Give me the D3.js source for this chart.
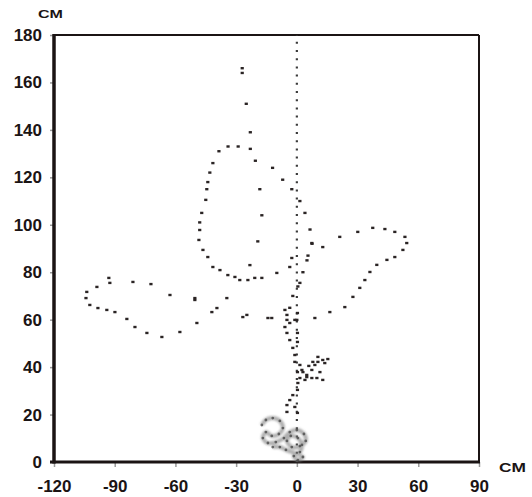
<!DOCTYPE html>
<html>
<head>
<meta charset="utf-8">
<script src="https://cdnjs.cloudflare.com/ajax/libs/d3/7.8.5/d3.min.js"></script>
<style>
body { margin: 0; background: #fff; }
svg text { font-family: "Liberation Sans", Arial, sans-serif; font-weight: bold; fill: #1b1414; }
</style>
</head>
<body>
<svg id="chartSVG" width="532" height="497"></svg>
<script>
// tick labels
var xTicks = [-120, -90, -60, -30, 0, 30, 60, 90];
var yTicks = [0, 20, 40, 60, 80, 100, 120, 140, 160, 180];

// straight dotted reference line at x = 0
var refLine = [[0, 0], [0, 180]];

// trajectory pieces, [x cm, y cm]
var topSpur = [[-27, 166], [-27, 164], [-25, 151], [-23, 139], [-23, 132], [-12, 124], [-7, 119], [-2.5, 115],
  [1.5, 110], [4, 105], [6.5, 98], [7.5, 92], [5.5, 87], [5, 85], [3, 80], [1.5, 75.5], [0.5, 74], [-2, 70], [-3.5, 65]];
var innerPath = [[-20.5, 127], [-18.3, 115], [-17.3, 104], [-19.3, 93], [-23.2, 83]];
var leftLoop = [[-29, 133], [-34, 133], [-38.5, 131], [-41.5, 126], [-43, 122], [-44, 118], [-44.5, 115], [-45, 110.5],
  [-47, 105], [-48, 101], [-48, 97.8], [-48.4, 93.6], [-46.4, 89.4], [-44, 86.4], [-41.5, 82.2], [-38, 80.9],
  [-34.1, 78.8], [-30.6, 78], [-28.2, 76.7], [-24.2, 76.7], [-20.8, 77.6], [-17.3, 77.6], [-9.9, 79.7], [-3.5, 82.2], [-2.5, 86]];
var rightLobe = [[7.4, 92.3], [12.8, 90.6], [21.2, 94.9], [30.1, 97], [37.5, 98.7], [43.5, 98.2], [48.4, 97], [53.4, 94.9],
  [54.3, 92.3], [52.4, 89.4], [48.4, 86.4], [44.5, 85.2], [39.5, 83.1], [36.1, 80.1], [33.6, 76.7], [31.1, 73.4],
  [27.7, 69.6], [23.7, 65.3], [16.3, 63.2], [8.9, 60.7], [0, 59.9]];
var crossLine = [[-50.4, 69.1], [-39.5, 64.9], [-34.6, 69.1], [-26.7, 61.1], [-24.7, 62], [-14.3, 60.7], [-12.4, 60.7], [-4.9, 62]];
var leftLobe = [[-42, 63.2], [-49.4, 58.6], [-57.8, 54.8], [-66.7, 52.7], [-74.1, 54.4], [-80, 56.9], [-84, 60.3],
  [-89.9, 63.2], [-93.9, 64.1], [-98.3, 64.9], [-102.3, 66.2], [-104.2, 69.1], [-103.8, 71.7], [-98.8, 73.8],
  [-92.9, 77.6], [-92.4, 75.5], [-81, 75.9], [-72.1, 75], [-62.7, 70.4], [-50.4, 68.3]];
var trunk = [[-5.9, 64.1], [-4.9, 59.9], [-5.9, 56.9], [-3.5, 58.6], [-1, 59.9], [0.3, 62.8], [-4.9, 54.4], [-3.5, 51.4],
  [0.3, 54.4], [0.3, 50.6], [-2, 48.1], [-1, 45.1], [-1, 42.2], [1.5, 40.9], [0.3, 37.9], [1.5, 35.4],
  [0.5, 33.3], [0.3, 30.4], [-2, 28.2], [-3.5, 26.1], [-4.9, 24], [-4.9, 21.1], [-1, 23.2], [0.3, 20.7]];
var star = [[2.5, 38.8], [4.9, 36.7], [7.4, 38.8], [8.9, 40.9], [10.4, 42.2], [12.8, 43], [15.3, 43.4], [13.8, 41.7],
  [11.4, 37.9], [12.8, 34.6], [9.9, 35.4], [7.4, 35.4], [4.9, 35.8], [7.9, 42.2], [10.4, 44.3], [3, 37.9], [5.9, 40.5], [4, 34.6]];
var scribble = [[-17.3, 15.6], [-15.3, 17.7], [-11.9, 18.5], [-8.4, 17.3], [-6.9, 14.3], [-8.9, 11.8], [-12.4, 11],
  [-15.3, 12.6], [-16.8, 10.1], [-14.3, 8], [-10.4, 8.4], [-6.4, 10.1], [-3.5, 12.6], [0, 13.5], [3.5, 11.8],
  [4.4, 8.9], [1.5, 6.7], [-2.5, 6.3], [-4.9, 8.9], [-3, 11], [0.5, 10.1], [2.5, 7.2], [1.5, 4.2], [-1.5, 2.5],
  [0.5, 0.8], [3, 2.1], [-5.4, 5.1], [-8.4, 6.3], [-11.9, 6.3]];

var svg = d3.select("#chartSVG"),
    margin = {top: 35, right: 53, bottom: 35, left: 54},
    width = svg.attr("width") - margin.left - margin.right,
    height = svg.attr("height") - margin.top - margin.bottom;

// soft blur for the smudged start cluster
svg.append("defs").append("filter").attr("id", "smudge")
  .append("feGaussianBlur").attr("stdDeviation", 1.3);

var g = svg.append("g").attr("transform", "translate(" + margin.left + "," + margin.top + ")");

var x = d3.scaleLinear().domain([-120, 90]).range([0, width]),
    y = d3.scaleLinear().domain([0, 180]).range([height, 0]);

var fmt = function(d) { return String(d); }; // plain hyphen minus like the scan

var xAxis = g.append("g")
    .attr("transform", "translate(0," + height + ")")
    .call(d3.axisBottom(x).tickValues(xTicks).tickSize(5).tickPadding(13).tickFormat(fmt));
var yAxis = g.append("g")
    .call(d3.axisLeft(y).tickValues(yTicks).tickSize(4).tickPadding(8).tickFormat(fmt));

[xAxis, yAxis].forEach(function(a) {
  a.select(".domain").remove();
  a.selectAll(".tick line").attr("stroke", "#9a9a9a").attr("stroke-width", 1.5);
  a.selectAll(".tick text").style("font-size", "17px").attr("fill", "#1b1414");
});

// frame: heavy left/bottom, thin top/right
g.append("line").attr("x1", x(-120)).attr("x2", x(90)).attr("y1", y(180)).attr("y2", y(180))
  .attr("stroke", "#1b1414").attr("stroke-width", 2);
g.append("line").attr("x1", x(90)).attr("x2", x(90)).attr("y1", y(180)).attr("y2", y(0))
  .attr("stroke", "#1b1414").attr("stroke-width", 2);
g.append("line").attr("x1", x(-120)).attr("x2", x(-120)).attr("y1", y(180) - 1).attr("y2", y(0) + 1.5)
  .attr("stroke", "#1b1414").attr("stroke-width", 3.5);
g.append("line").attr("x1", x(-120) - 4).attr("x2", x(90) + 1).attr("y1", y(0)).attr("y2", y(0))
  .attr("stroke", "#1b1414").attr("stroke-width", 3);

// unit labels
svg.append("text").attr("x", 38).attr("y", 18).style("font-size", "11px")
  .attr("textLength", 25).attr("lengthAdjust", "spacingAndGlyphs").text("CM");
svg.append("text").attr("x", 499).attr("y", 472).style("font-size", "12px")
  .attr("textLength", 27).attr("lengthAdjust", "spacingAndGlyphs").text("CM");

var line = d3.line()
    .x(function(d) { return x(d[0]); })
    .y(function(d) { return y(d[1]); });

// reference line
g.append("path")
  .attr("d", line(refLine))
  .attr("fill", "none")
  .attr("stroke", "#3a3a3a")
  .attr("stroke-width", 2.2)
  .attr("stroke-dasharray", "2,6.2");

// smudgy start cluster
g.append("path")
  .attr("d", line.curve(d3.curveCatmullRom)(scribble))
  .attr("fill", "none")
  .attr("stroke", "#7a7a7a")
  .attr("stroke-width", 4)
  .attr("stroke-opacity", 0.6)
  .attr("filter", "url(#smudge)");
line.curve(d3.curveLinear);

g.selectAll(".sdot")
  .data(scribble)
  .enter().append("circle")
  .attr("class", "sdot")
  .attr("cx", function(d) { return x(d[0]); })
  .attr("cy", function(d) { return y(d[1]); })
  .attr("r", 1.4)
  .attr("fill", "#4a4a4a")
  .attr("fill-opacity", 0.8);

var pieces = [topSpur, innerPath, leftLoop, rightLobe, crossLine, leftLobe, trunk, star];

var dots = g.selectAll(".piece")
  .data(pieces)
  .enter().append("g")
  .attr("class", "piece");

dots.selectAll("rect")
  .data(function(d) { return d; })
  .enter().append("rect")
  .attr("x", function(d) { return x(d[0]) - 1.6; })
  .attr("y", function(d) { return y(d[1]) - 1.2; })
  .attr("width", 3.2)
  .attr("height", 2.4)
  .attr("fill", "#2a2424");
</script>
</body>
</html>
